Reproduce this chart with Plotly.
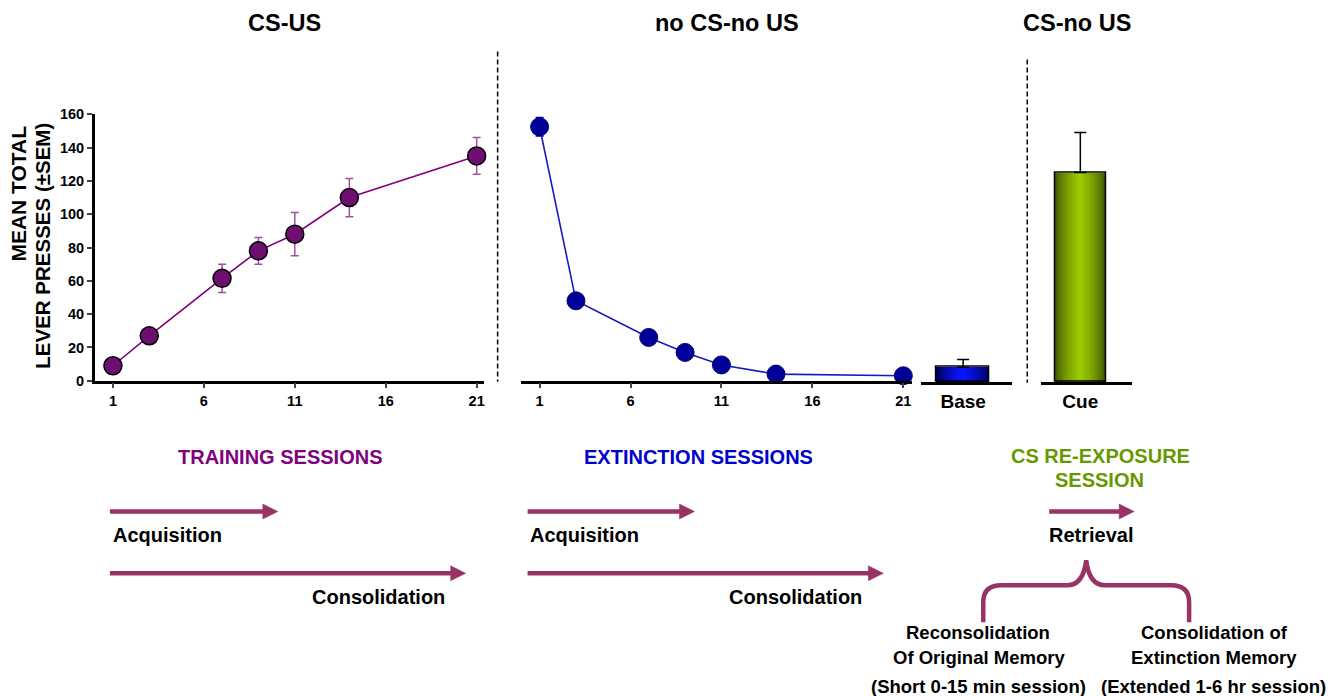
import plotly.graph_objects as go

# ---------------- data ----------------
train_sessions = [1, 3, 7, 9, 11, 14, 21]
train_mean = [9, 27, 61.5, 78, 88, 110, 135]
train_sem = [2, 3, 8.5, 8, 13, 11.5, 11]

ext_sessions = [1, 3, 7, 9, 11, 14, 21]
ext_mean = [152.5, 48, 26, 17, 9.5, 4, 3]
ext_sem = [5.5, 3, 2, 2, 1.5, 1, 1]

bar_labels = ["Base", "Cue"]
bar_mean = [9, 126]
bar_sem = [4.6, 24]

session_ticks = [1, 6, 11, 16, 21]
y_ticks = [0, 20, 40, 60, 80, 100, 120, 140, 160]

# ---------------- helpers ----------------
W, H = 1332, 696
FONT = "Liberation Sans"
ARROW = "#993366"
# vertical calibration of the photographed page (measured offset / scale)
Y_OFF, Y_SCALE = 6.5, 0.979


def px(x):
    return x / W


def py(y):
    return 1 - ((y - Y_OFF) / Y_SCALE) / H


def lerp_color(c1, c2, t):
    a = [int(c1[i:i + 2], 16) for i in (1, 3, 5)]
    b = [int(c2[i:i + 2], 16) for i in (1, 3, 5)]
    return "rgb(%d,%d,%d)" % tuple(round(a[i] + (b[i] - a[i]) * t) for i in range(3))


fig = go.Figure()

# panel 1: training
fig.add_trace(go.Scatter(
    x=train_sessions, y=train_mean, mode="lines+markers",
    line=dict(color="#800080", width=1.6),
    marker=dict(size=18, color="#6E0E70", line=dict(color="black", width=1.5)),
    error_y=dict(type="data", array=train_sem, color="#A052A0", thickness=1.5, width=4),
    xaxis="x", yaxis="y", cliponaxis=False))

# panel 2: extinction
fig.add_trace(go.Scatter(
    x=ext_sessions, y=ext_mean, mode="lines+markers",
    line=dict(color="#1A1AC0", width=1.6),
    marker=dict(size=18, color="#000099", line=dict(color="#00007A", width=1)),
    error_y=dict(type="data", array=ext_sem, color="#000099", thickness=1.5, width=4),
    xaxis="x2", yaxis="y2", cliponaxis=False))

# bars with shaded (cylinder-like) fill
bar_specs = [
    ("x3", "y3", 0.58, "#00005A", "#0A14FF"),
    ("x4", "y4", 0.56, "#455C00", "#9CCC00"),
]
N = 12
for i, (xa, ya, bw, edge, center) in enumerate(bar_specs):
    for k in range(N):
        frac = 1 - k / N
        t = (k / (N - 1)) ** 0.8
        fig.add_trace(go.Bar(
            x=[bar_labels[i]], y=[bar_mean[i]], width=bw * frac,
            marker=dict(color=lerp_color(edge, center, t), line=dict(width=0)),
            xaxis=xa, yaxis=ya, hoverinfo="skip"))
    fig.add_trace(go.Bar(
        x=[bar_labels[i]], y=[bar_mean[i]], width=bw,
        marker=dict(color="rgba(0,0,0,0)", line=dict(color="black", width=1.5)),
        error_y=dict(type="data", array=[bar_sem[i]], arrayminus=[0], symmetric=False,
                     color="black", thickness=1.5, width=6),
        xaxis=xa, yaxis=ya))

tickfont = dict(family=FONT, size=14.5, color="black", weight="bold")
ydom = [py(380), py(113)]
ydom_bar = [py(381.5), py(381.5 - 267)]

layout_axes = dict(
    xaxis=dict(domain=[px(94.8), px(484.3)], range=[0, 21.4], tickvals=session_ticks,
               ticks="outside", ticklen=5, tickwidth=1.5, showline=True, linewidth=2.5,
               linecolor="black", showgrid=False, zeroline=False, tickfont=tickfont,
               anchor="y"),
    yaxis=dict(domain=ydom, range=[0, 160], tickvals=y_ticks, ticks="outside", ticklen=5,
               tickwidth=1.5, showline=True, linewidth=2.5, linecolor="black",
               showgrid=False, zeroline=False, tickfont=tickfont, anchor="x"),
    xaxis2=dict(domain=[px(521.8), px(913.1)], range=[0, 21.5], tickvals=session_ticks,
                ticks="outside", ticklen=5, tickwidth=1.5, showline=True, linewidth=2.5,
                linecolor="black", showgrid=False, zeroline=False, tickfont=tickfont,
                anchor="y2"),
    yaxis2=dict(domain=ydom, range=[0, 160], visible=False, anchor="x2"),
    xaxis3=dict(domain=[px(922), px(1013)], range=[-0.46, 0.54], type="category",
                ticks="", showline=True, linewidth=2.5, linecolor="black", showgrid=False,
                tickfont=dict(family=FONT, size=19, color="black", weight="bold"),
                anchor="y3"),
    yaxis3=dict(domain=ydom_bar, range=[0, 160], visible=False, anchor="x3"),
    xaxis4=dict(domain=[px(1042), px(1133)], range=[-0.43, 0.57], type="category",
                ticks="", showline=True, linewidth=2.5, linecolor="black", showgrid=False,
                tickfont=dict(family=FONT, size=19, color="black", weight="bold"),
                anchor="y4"),
    yaxis4=dict(domain=ydom_bar, range=[0, 160], visible=False, anchor="x4"),
)

shapes = []
# dashed separators
for x, y0, y1 in [(498, 50, 381), (1028, 58, 382)]:
    shapes.append(dict(type="line", xref="paper", yref="paper", x0=px(x), x1=px(x),
                       y0=py(y0), y1=py(y1), line=dict(color="black", width=1.5, dash="5px,3px")))


def arrow(x0, x1, y):
    head = 15
    shapes.append(dict(type="line", xref="paper", yref="paper", x0=px(x0), x1=px(x1 - head + 2),
                       y0=py(y), y1=py(y), line=dict(color=ARROW, width=4.5)))
    path = "M %f,%f L %f,%f L %f,%f Z" % (px(x1 - head), py(y - 7.5), px(x1), py(y),
                                         px(x1 - head), py(y + 7.5))
    shapes.append(dict(type="path", xref="paper", yref="paper", path=path,
                       fillcolor=ARROW, line=dict(color=ARROW, width=0.5)))


arrow(110, 278, 511)
arrow(110, 466, 573)
arrow(528, 695, 511)
arrow(528, 884, 573)
arrow(1050, 1135, 511)

# curly brace
pts = [("M", [(984, 622)]), ("L", [(984, 602)]), ("Q", [(984, 585), (1002, 585)]),
       ("L", [(1068, 585)]), ("Q", [(1084, 585), (1087, 560)]),
       ("Q", [(1090, 585), (1106, 585)]), ("L", [(1172, 585)]),
       ("Q", [(1190, 585), (1190, 602)]), ("L", [(1190, 622)])]
brace = " ".join(cmd + " " + " ".join("%f,%f" % (px(a), py(b)) for a, b in p) for cmd, p in pts)
shapes.append(dict(type="path", xref="paper", yref="paper", path=brace,
                   line=dict(color=ARROW, width=4.5)))

annotations = []


def text(t, x, y, size, color="black", xanchor="center", angle=0):
    annotations.append(dict(text="<b>%s</b>" % t, x=px(x), y=py(y), xref="paper", yref="paper",
                            showarrow=False, xanchor=xanchor, yanchor="middle", textangle=angle,
                            font=dict(family=FONT, size=size, color=color)))


# panel titles
text("CS-US", 285, 22, 23.5)
text("no CS-no US", 728, 22, 23.5)
text("CS-no US", 1078, 22, 23.5)

# y-axis title (two rotated lines, aligned at top)
text("MEAN TOTAL", 18.5, 192, 21, angle=-90)
text("LEVER PRESSES (±SEM)", 41.7, 245, 20.5, angle=-90)

# session headings
text("TRAINING SESSIONS", 280, 456, 20, "#800080")
text("EXTINCTION SESSIONS", 699, 456, 20, "#0000CC")
text("CS RE-EXPOSURE", 1101, 455, 20, "#669900")
text("SESSION", 1100, 479, 20, "#669900")

text("Acquisition", 111, 535, 20, xanchor="left")
text("Acquisition", 528, 535, 20, xanchor="left")
text("Retrieval", 1092, 535, 20)
text("Consolidation", 447, 597, 20, xanchor="right")
text("Consolidation", 865, 597, 20, xanchor="right")

text("Reconsolidation", 979, 632, 18.5)
text("Of Original Memory", 980, 657, 18.5)
text("Consolidation of", 1215, 632, 18.5)
text("Extinction Memory", 1215, 657, 18.5)
text("(Short 0-15 min session)", 979, 686, 18.5)
text("(Extended 1-6 hr session)", 1214, 686, 18.5)

fig.update_layout(
    width=W, height=H, autosize=False, margin=dict(l=0, r=0, t=0, b=0),
    paper_bgcolor="white", plot_bgcolor="white", showlegend=False,
    barmode="overlay", bargap=0,
    font=dict(family=FONT, color="black"),
    shapes=shapes, annotations=annotations,
    **layout_axes)

fig.write_html(
    "out.html",
    config={"displayModeBar": False, "responsive": False},
    post_script=(
        "document.documentElement.style.margin='0';"
        "document.documentElement.style.padding='0';"
        "document.documentElement.style.overflow='hidden';"
        "document.body.style.margin='0';"
        "document.body.style.padding='0';"
        "document.body.style.overflow='hidden';"
        "var d=document.getElementById('{plot_id}');"
        "d.style.position='fixed';d.style.left='0px';d.style.top='0px';"
    ),
)
